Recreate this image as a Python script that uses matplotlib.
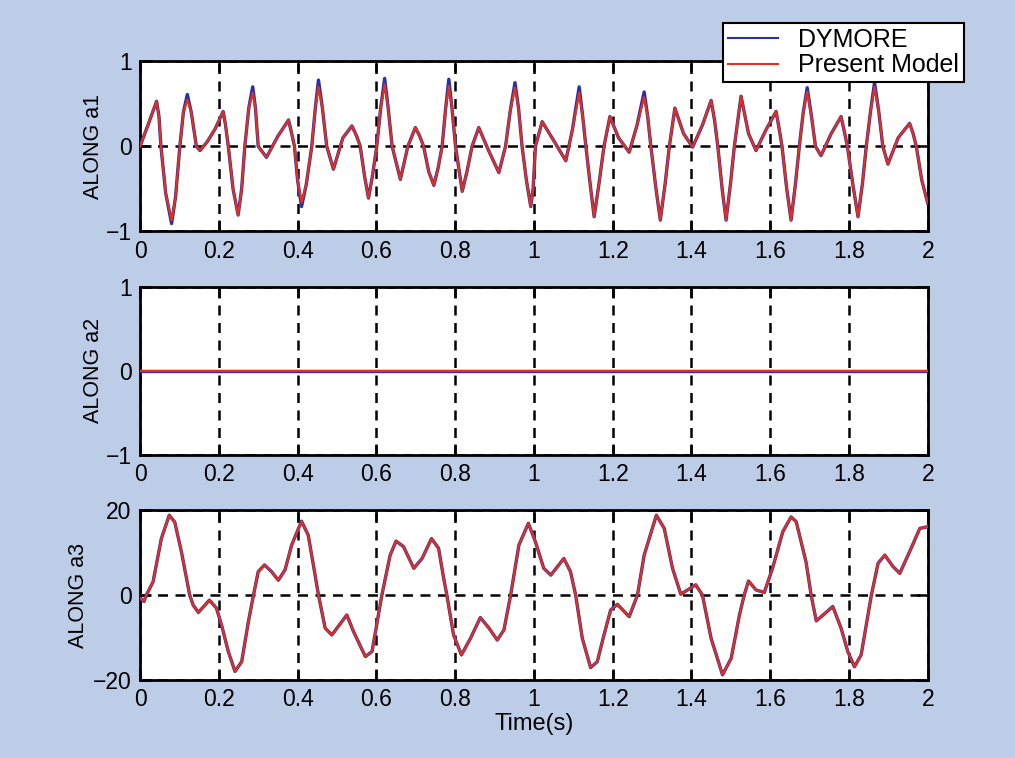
import matplotlib.pyplot as plt

plt.rcParams['font.family'] = ['Liberation Sans', 'DejaVu Sans']
plt.rcParams['font.size'] = 15

# time ticks
x_ticks = [0, 0.2, 0.4, 0.6, 0.8, 1.0, 1.2, 1.4, 1.6, 1.8, 2.0]
x_tick_labels = ['0', '0.2', '0.4', '0.6', '0.8', '1', '1.2', '1.4', '1.6', '1.8', '2']

# ALONG a1 (DYMORE)
t1 = [0.000, 0.020, 0.042, 0.048, 0.053, 0.065, 0.080, 0.090, 0.101, 0.110,
      0.120, 0.130, 0.143, 0.152, 0.170, 0.190, 0.211, 0.217, 0.224, 0.236,
      0.249, 0.258, 0.266, 0.276, 0.286, 0.293, 0.300, 0.321, 0.350, 0.377,
      0.385, 0.392, 0.400, 0.410, 0.422, 0.436, 0.445, 0.453, 0.463, 0.474,
      0.491, 0.515, 0.538, 0.550, 0.559, 0.570, 0.580, 0.590, 0.601, 0.611,
      0.621, 0.630, 0.640, 0.661, 0.680, 0.699, 0.710, 0.720, 0.733, 0.746,
      0.757, 0.767, 0.776, 0.784, 0.792, 0.801, 0.818, 0.830, 0.843, 0.860,
      0.885, 0.911, 0.928, 0.940, 0.952, 0.961, 0.970, 0.981, 0.992, 0.998,
      1.004, 1.021, 1.050, 1.081, 1.098, 1.115, 1.124, 1.132, 1.143, 1.153,
      1.165, 1.178, 1.193, 1.215, 1.242, 1.262, 1.280, 1.289, 1.297, 1.310,
      1.321, 1.333, 1.344, 1.358, 1.380, 1.403, 1.428, 1.450, 1.459, 1.467,
      1.478, 1.488, 1.499, 1.509, 1.526, 1.545, 1.564, 1.590, 1.615, 1.623,
      1.630, 1.642, 1.653, 1.664, 1.674, 1.684, 1.694, 1.705, 1.715, 1.729,
      1.755, 1.780, 1.788, 1.796, 1.810, 1.823, 1.834, 1.844, 1.855, 1.865,
      1.876, 1.886, 1.899, 1.925, 1.954, 1.963, 1.971, 1.985, 2.000]
a1_dymore = [0.00, 0.25, 0.53, 0.35, 0.00, -0.55, -0.91, -0.60, 0.00, 0.40,
             0.61, 0.40, 0.00, -0.05, 0.05, 0.20, 0.41, 0.25, 0.00, -0.50,
             -0.81, -0.50, 0.00, 0.45, 0.70, 0.45, 0.00, -0.13, 0.12, 0.31,
             0.15, 0.00, -0.40, -0.71, -0.45, 0.00, 0.45, 0.78, 0.45, 0.00,
             -0.27, 0.10, 0.24, 0.12, 0.00, -0.35, -0.61, -0.35, 0.00, 0.45,
             0.80, 0.45, 0.00, -0.39, 0.00, 0.22, 0.12, 0.00, -0.30, -0.46,
             -0.25, 0.00, 0.45, 0.79, 0.45, 0.00, -0.53, -0.30, 0.00, 0.22,
             -0.05, -0.31, 0.00, 0.42, 0.75, 0.45, 0.00, -0.40, -0.71, -0.50,
             0.00, 0.29, 0.07, -0.17, 0.20, 0.70, 0.35, 0.00, -0.45, -0.83,
             -0.45, 0.00, 0.35, 0.10, -0.07, 0.25, 0.64, 0.35, 0.00, -0.50,
             -0.87, -0.45, 0.00, 0.45, 0.15, -0.01, 0.25, 0.54, 0.30, 0.00,
             -0.50, -0.87, -0.45, 0.00, 0.59, 0.15, -0.05, 0.20, 0.41, 0.20,
             0.00, -0.50, -0.87, -0.45, 0.00, 0.40, 0.69, 0.35, 0.00, -0.11,
             0.15, 0.35, 0.18, 0.00, -0.45, -0.83, -0.45, 0.00, 0.42, 0.75,
             0.40, 0.00, -0.21, 0.10, 0.27, 0.15, 0.00, -0.40, -0.67]

# Present model differs only at a few extrema (time, value)
a1_red_t = [0.080, 0.120, 0.286, 0.410, 0.453, 0.621, 0.784, 0.952, 1.115, 1.280, 1.694, 1.865]
a1_red_v = [-0.87, 0.55, 0.63, -0.66, 0.70, 0.73, 0.71, 0.69, 0.63, 0.58, 0.64, 0.70]

# ALONG a2
t2 = [0.0, 2.0]
a2_dymore = [0.0, 0.0]
a2_present = [0.0, 0.0]

# ALONG a3
t3 = [0.000, 0.010, 0.016, 0.033, 0.054, 0.074, 0.088, 0.105, 0.126, 0.135,
      0.148, 0.176, 0.194, 0.207, 0.224, 0.241, 0.258, 0.275, 0.288, 0.300,
      0.316, 0.334, 0.351, 0.368, 0.385, 0.410, 0.427, 0.440, 0.453, 0.470,
      0.487, 0.525, 0.542, 0.572, 0.589, 0.614, 0.635, 0.650, 0.669, 0.695,
      0.716, 0.740, 0.758, 0.771, 0.779, 0.796, 0.816, 0.839, 0.864, 0.886,
      0.907, 0.924, 0.941, 0.962, 0.986, 1.004, 1.025, 1.043, 1.076, 1.093,
      1.106, 1.123, 1.144, 1.161, 1.178, 1.195, 1.212, 1.242, 1.263, 1.280,
      1.311, 1.331, 1.352, 1.373, 1.411, 1.428, 1.450, 1.479, 1.501, 1.522,
      1.534, 1.545, 1.564, 1.585, 1.606, 1.632, 1.653, 1.666, 1.691, 1.704,
      1.717, 1.759, 1.780, 1.797, 1.814, 1.831, 1.857, 1.874, 1.891, 1.912,
      1.929, 1.954, 1.980, 2.000]
a3_dymore = [-0.8, -1.5, 0.0, 3.1, 13.3, 18.8, 17.2, 10.2, 0.0, -2.4,
             -4.1, -1.2, -3.1, -7.1, -13.3, -18.0, -15.7, -6.3, 0.0, 5.5,
             7.1, 5.5, 3.5, 5.9, 11.8, 17.4, 14.1, 7.1, 0.0, -7.8,
             -9.4, -4.7, -8.6, -14.5, -13.3, 0.0, 9.4, 12.7, 11.4, 6.3,
             8.6, 13.3, 11.0, 3.9, 0.0, -9.4, -14.1, -10.2, -5.3, -7.8,
             -10.6, -8.2, 0.0, 11.8, 16.9, 12.5, 6.3, 4.7, 8.6, 5.5,
             0.0, -10.2, -17.1, -15.7, -9.4, -3.5, -2.2, -5.1, 0.0, 9.4,
             18.8, 15.7, 6.3, 0.2, 2.4, 0.0, -10.2, -18.8, -14.9, -4.7,
             0.0, 3.3, 1.2, 0.6, 6.3, 14.9, 18.4, 17.3, 7.8, 0.0,
             -6.1, -2.7, -7.8, -13.3, -16.9, -14.1, 0.0, 7.5, 9.4, 6.7,
             5.1, 10.2, 15.7, 16.1]
a3_present = list(a3_dymore)

a1_present = list(a1_dymore)
for tt, vv in zip(a1_red_t, a1_red_v):
    a1_present[t1.index(tt)] = vv

blue = '#2b2fa6'
red = '#e2301f'
bg = '#bdcce7'

fig = plt.figure(figsize=(10.15, 7.58), dpi=100, facecolor=bg)

positions = [[0.138, 0.695, 0.776, 0.224],
             [0.138, 0.400, 0.776, 0.222],
             [0.138, 0.103, 0.776, 0.224]]
series = [(t1, a1_dymore, a1_present, [-1, 1], [-1, 0, 1], 'ALONG a1', 1),
          (t2, a2_dymore, a2_present, [-1, 1], [-1, 0, 1], 'ALONG a2', 1),
          (t3, a3_dymore, a3_present, [-20, 20], [-20, 0, 20], 'ALONG a3', 3)]

axs = []
for pos, (t, yd, yp, lim, yt, lab, lp) in zip(positions, series):
    ax = fig.add_axes(pos)
    ax.plot(t, yd, color=blue, lw=2.4, label='DYMORE', zorder=3,
            solid_joinstyle='round')
    ax.plot(t, yp, color=red, lw=1.6, label='Present Model', zorder=4,
            solid_joinstyle='round')
    ax.set_xlim(0, 2)
    ax.set_ylim(lim)
    ax.set_xticks(x_ticks)
    ax.set_xticklabels(x_tick_labels)
    ax.set_yticks(yt)
    ax.set_ylabel(lab, fontsize=15.5, labelpad=lp)
    ax.grid(True, color='black', linestyle=(0, (4, 3)), linewidth=1.8)
    ax.tick_params(direction='in', length=8, width=1.8, top=True, right=True,
                   labelsize=16.5, pad=6)
    for s in ax.spines.values():
        s.set_linewidth(2)
    axs.append(ax)

axs[2].set_xlabel('Time(s)', fontsize=17, labelpad=1)

h, l = axs[0].get_legend_handles_labels()
leg = fig.legend(h, l, loc='upper right', bbox_to_anchor=(0.962, 0.986),
                 fontsize=18, fancybox=False, framealpha=1, edgecolor='black',
                 handlelength=2.0, handletextpad=0.8, borderpad=0.2,
                 labelspacing=0.05)
leg.get_frame().set_linewidth(1.5)
leg.set_zorder(10)
for ln in leg.get_lines():
    ln.set_linewidth(1.5)

fig.savefig('out.png', dpi=100, facecolor=bg)
